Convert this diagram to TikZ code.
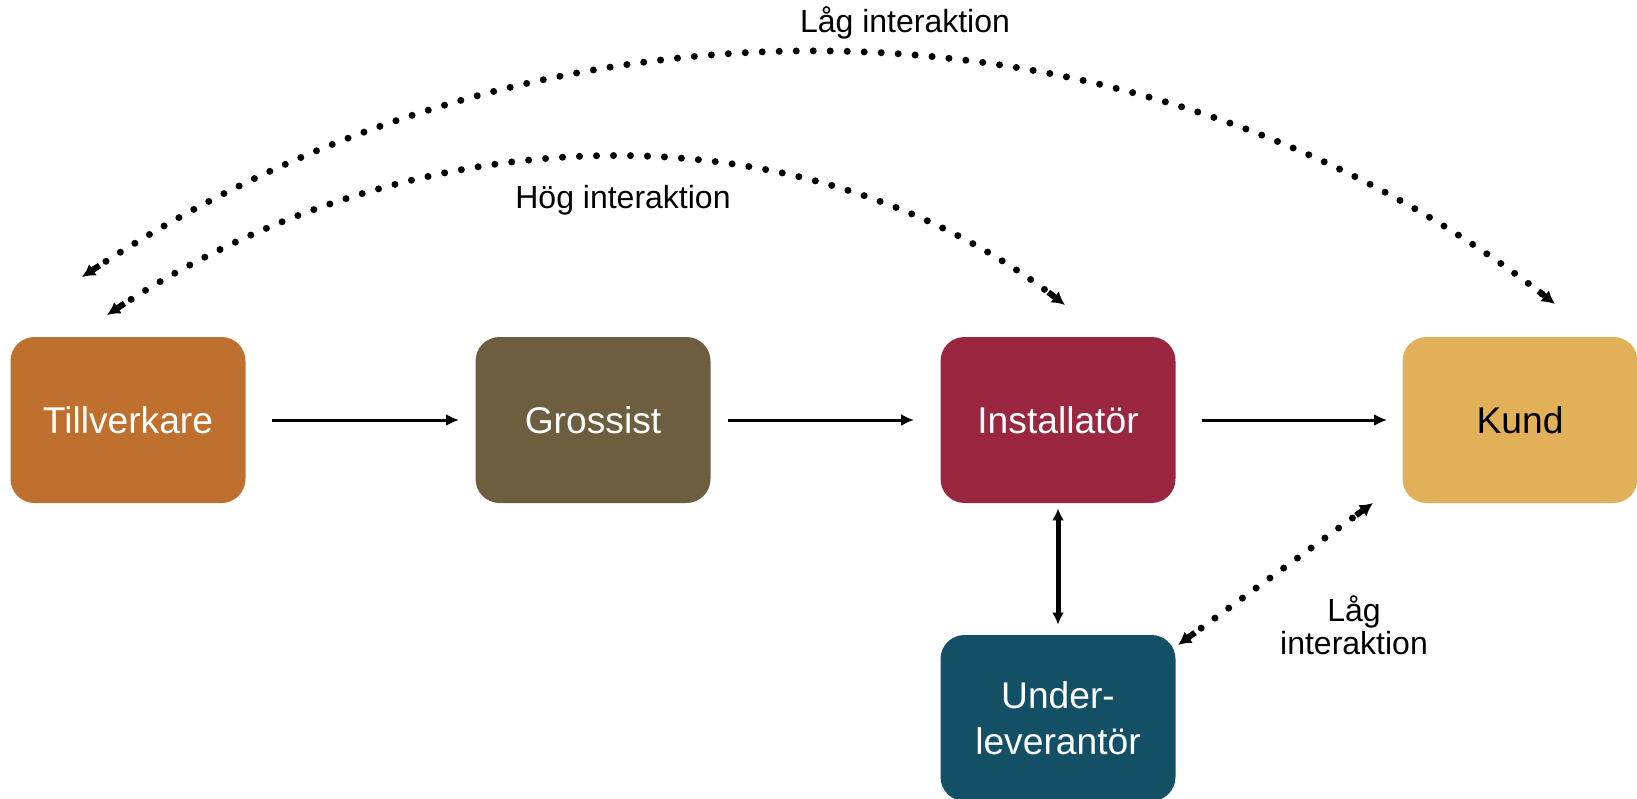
\documentclass[tikz,border=0pt]{standalone}
\usepackage{fontspec}
\setmainfont{Liberation Sans}
\usepackage{tikz}
\usetikzlibrary{positioning}
\usetikzlibrary{calc}
\usetikzlibrary{arrows.meta}
\definecolor{tillcol}{RGB}{191,111,46}
\definecolor{grosscol}{RGB}{108,94,62}
\definecolor{instcol}{RGB}{155,38,64}
\definecolor{kundcol}{RGB}{227,176,90}
\definecolor{undercol}{RGB}{19,80,102}

\begin{document}
\begin{tikzpicture}[x=0.5pt,y=-0.5pt]
			\tikzstyle{place}=[rounded corners=12pt, minimum width=117.5pt, minimum height=83pt, inner sep=2pt, text=white, align=center, font=\fontsize{18.6}{23}\selectfont]
			\tikzstyle{lbl}=[align=center, font=\fontsize{16}{16.5}\selectfont]
			\tikzstyle{flow}=[-{Latex[length=6.5pt,width=6pt]}, line width=1.5pt]
			\tikzstyle{dots}=[{Latex[length=6.5pt,width=7pt] Rectangle[length=4pt,width=3pt]}-{Rectangle[length=4pt,width=3pt] Latex[length=6.5pt,width=7pt]}, line width=3.5pt, dash pattern=on 0pt off 8.5pt, line cap=round]
			
			\useasboundingbox (0,0) rectangle (1637,798);
			
			\draw node at (128, 420) [place, fill=tillcol] (till) {Tillverkare};
			\draw node at (593, 420) [place, fill=grosscol] (gross) {Grossist};
			\draw node at (1058, 420) [place, fill=instcol] (inst) {Installatör};
			\draw node at (1520, 420) [place, fill=kundcol, text=black] (kund) {Kund};
			\draw node at (1058, 718) [place, fill=undercol] (under) {Under-\\leverantör};
			
			\draw [flow, shorten <=13pt, shorten >=8pt]  (till) to (gross);
			\draw [flow, shorten <=8.5pt, shorten >=13pt]  (gross) to (inst);
			\draw [flow, shorten <=13pt, shorten >=7.5pt]  (inst) to (kund);
			\draw [{Latex[length=6pt,width=6pt]}-{Latex[length=6pt,width=6pt]}, line width=2.5pt, shorten <=2.5pt, shorten >=5pt]  (inst) to (under);
			
			\coordinate (lowA) at (82, 277);
			\coordinate (lowB) at (1555, 304);
			\coordinate (highA) at (107, 315);
			\coordinate (highB) at (1065, 305);
			\coordinate (sideA) at (1178, 645);
			\coordinate (sideB) at (1373, 503);
			
			\draw [dots]  (lowA) .. controls (567,-43) and (1154,-9) .. (lowB);
			\draw [dots]  (highA) .. controls (412,114) and (797,99) .. (highB);
			\draw [dots]  (sideA) to (sideB);
			
			\node at (905, 23) [lbl] (low) {Låg interaktion};
			\node at (623, 200) [lbl] (high) {Hög interaktion};
			\node at (1354, 625) [lbl] (side) {Låg\\interaktion};
\end{tikzpicture}
\end{document}
